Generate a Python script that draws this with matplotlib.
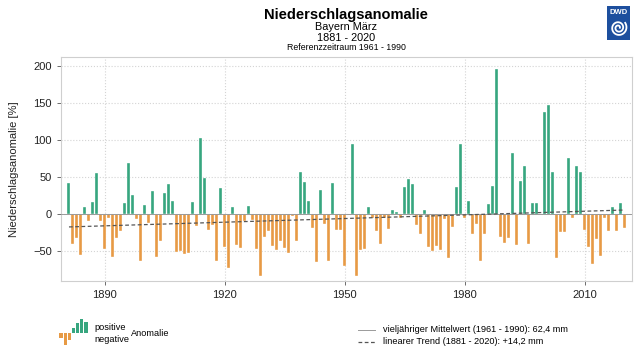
import numpy as np
import matplotlib
matplotlib.use("Agg")
import matplotlib.pyplot as plt
from matplotlib.patches import Rectangle

plt.rcParams['font.family'] = ['Liberation Sans', 'DejaVu Sans']

# data (percent anomaly, March, Bavaria)
years = np.arange(1881, 2021)
anomaly = [
    42, -40, -33, -55, 9, -9, 16, 55, -9, -47,          # 1881-1890
    -5, -58, -32, -23, 15, 69, 25, -7, -63, 12,         # 1891-1900
    -12, 31, -58, -36, 28, 41, 17, -51, -50, -54,       # 1901-1910
    -52, 16, -16, 102, 49, -21, -15, -64, 35, -45,      # 1911-1920
    -73, 9, -42, -46, -9, 11, -8, -47, -83, -31,        # 1921-1930
    -23, -43, -49, -36, -46, -52, -3, -37, 57, 43,      # 1931-1940
    18, -19, -65, 32, -13, -64, 42, -21, -21, -70,      # 1941-1950
    -2, 94, -83, -49, -47, 10, -6, -23, -41, -6,        # 1951-1960
    -20, 5, 3, -5, 37, 47, 41, -15, -27, 5,             # 1961-1970
    -44, -50, -43, -48, -7, -60, -17, 37, 94, -6,       # 1971-1980
    18, -27, -14, -63, -27, 14, 38, 196, -31, -39,      # 1981-1990
    -33, 82, -42, 45, 65, -41, 15, 15, -1, 138,         # 1991-2000
    147, 57, -60, -24, -24, 76, -6, 64, 56, -21,        # 2001-2010
    -45, -68, -34, -57, -5, -23, 9, -23, 15, -19,       # 2011-2020
]
trend_years = [1881, 2020]
trend_values = [-17.5, 5.3]

xticks = [1890, 1920, 1950, 1980, 2010]
yticks = [-50, 0, 50, 100, 150, 200]

green = "#37a67f"
orange = "#e79a45"

anomaly = np.array(anomaly)
colors = [green if v >= 0 else orange for v in anomaly]

fig = plt.figure(figsize=(6.4, 3.53), dpi=100)
ax = fig.add_axes([0.0953, 0.2048, 0.8917, 0.6346])

ax.bar(years, anomaly, width=0.75, color=colors, edgecolor="white", linewidth=0.25, zorder=2)
ax.axhline(0, color="#9a9a9a", linewidth=0.7, zorder=3)
ax.plot(trend_years, trend_values, color="#555555", linewidth=0.9, linestyle=(0, (3, 2)), zorder=4)

ax.set_xlim(1879, 2021.8)
ax.set_ylim(-90, 212)
ax.set_xticks(xticks)
ax.set_yticks(yticks)
ax.grid(True, color="#d4d4d4", linestyle=":", linewidth=0.8, zorder=0)
ax.set_axisbelow(True)
for sp in ax.spines.values():
    sp.set_color("#cfcfcf")
    sp.set_linewidth(0.8)
ax.tick_params(axis="both", labelsize=8, colors="#555555", labelcolor="#222222", length=3, width=0.6)
ax.set_ylabel("Niederschlagsanomalie [%]", fontsize=8, color="#222222", labelpad=10)

# titles
cx = 0.0953 + 0.8917 / 2
fig.text(cx, 0.958, "Niederschlagsanomalie", ha="center", va="center", fontsize=10.5, fontweight="bold")
fig.text(cx, 0.924, "Bayern März", ha="center", va="center", fontsize=7.8)
fig.text(cx, 0.891, "1881 - 2020", ha="center", va="center", fontsize=7.8)
fig.text(cx, 0.866, "Referenzzeitraum 1961 - 1990", ha="center", va="center", fontsize=6.3)

# DWD logo
logo = fig.add_axes([607 / 640, 1 - 40 / 353, 23 / 640, 34 / 353])
logo.set_xlim(0, 1)
logo.set_ylim(0, 1)
logo.axis("off")
logo.add_patch(Rectangle((0, 0), 1, 1, color="#1d4f9e"))
logo.text(0.5, 0.8, "DWD", color="white", ha="center", va="center", fontsize=5.5, fontweight="bold")
t = np.linspace(0, 4.2 * np.pi, 200)
r = 0.06 + 0.3 * t / t.max()
logo.plot(0.5 + r * np.cos(t) * 1.0, 0.36 + r * np.sin(t) * 0.68, color="white", linewidth=1.3)

# legend: bar icon
icon = fig.add_axes([58 / 640, 1 - 346 / 353, 31 / 640, 28 / 353])
icon_vals = [-1.0, -2.6, -1.6, 1.0, 2.2, 3.0, 2.4]
icon.bar(range(len(icon_vals)), icon_vals, width=0.75,
         color=[orange if v < 0 else green for v in icon_vals])
icon.set_ylim(-2.8, 3.2)
icon.axis("off")
fig.text(94 / 640, 1 - 327 / 353, "positive", fontsize=6.6, va="center")
fig.text(94 / 640, 1 - 339 / 353, "negative", fontsize=6.6, va="center")
fig.text(131 / 640, 1 - 333 / 353, "Anomalie", fontsize=6.6, va="center")

# legend: lines
fig.add_artist(plt.Line2D([358 / 640, 375 / 640], [1 - 330 / 353] * 2, color="#9a9a9a", linewidth=0.7))
fig.add_artist(plt.Line2D([358 / 640, 375 / 640], [1 - 342 / 353] * 2, color="#555555", linewidth=0.9,
                          linestyle=(0, (3, 2))))
fig.text(383 / 640, 1 - 330 / 353, "vieljähriger Mittelwert (1961 - 1990): 62,4 mm", fontsize=6.6, va="center")
fig.text(383 / 640, 1 - 342 / 353, "linearer Trend (1881 - 2020): +14,2 mm", fontsize=6.6, va="center")

fig.savefig("out.png", dpi=100)
